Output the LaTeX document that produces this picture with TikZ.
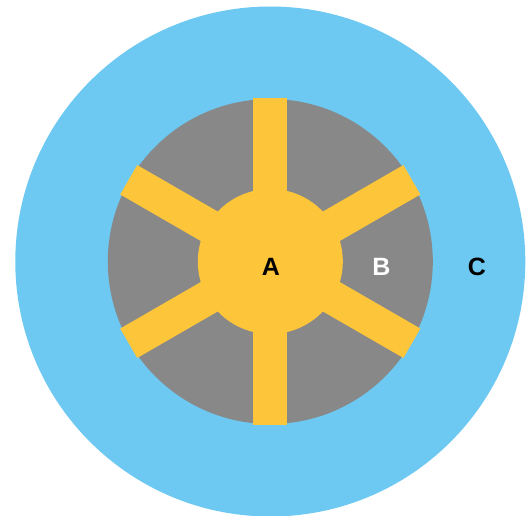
\documentclass[tikz,border=0pt]{standalone}
\usepackage{fontspec}
\setmainfont{Liberation Sans}
\definecolor{ringblue}{HTML}{6DC9F2}
\definecolor{hubgray}{HTML}{888888}
\definecolor{spokeyellow}{HTML}{FDC53A}
\begin{document}
\begin{tikzpicture}[x=1pt,y=-1pt,
  lbl/.style={font=\bfseries\fontsize{25}{25}\selectfont, inner sep=0pt, anchor=center},
  spokebar/.style={fill=spokeyellow, draw=none, minimum width=327pt, minimum height=34pt, inner sep=0pt, rectangle}]
\useasboundingbox (0,0) rectangle (527,515);
\coordinate (O) at (270.3,261.5);
\fill[ringblue] (O) circle (255);
\fill[hubgray] (O) circle (162.5);
\node[spokebar, rotate=90] (s1) at (O) {};
\node[spokebar, rotate=30] (s2) at (O) {};
\node[spokebar, rotate=-30] (s3) at (O) {};
\fill[spokeyellow] (O) circle (72.5);
\node[lbl, text=black] (A) at (271,267) {A};
\node[lbl, text=white] (B) at (381.5,267) {B};
\node[lbl, text=black] (C) at (477,267) {C};
\end{tikzpicture}
\end{document}
